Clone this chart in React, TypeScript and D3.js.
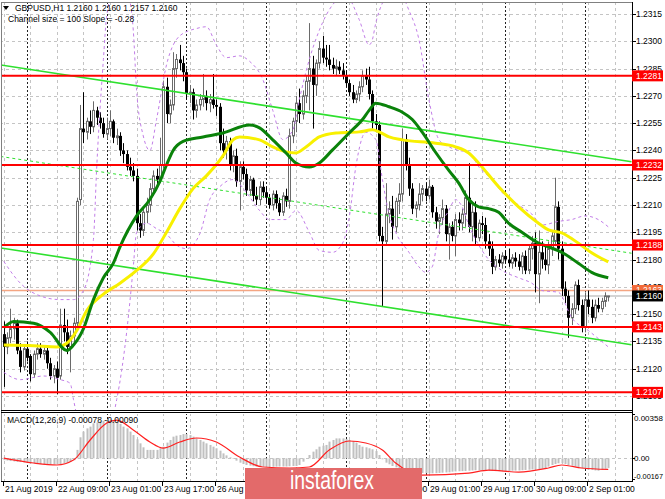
import * as React from 'react';
import * as d3 from 'd3';

// all prices below are pips above 1.2000 (e.g. 143 = 1.2143)
// candles: open, high, low, close — one per H1 bar, 21 Aug 17:00 .. 2 Sep 07:00
const candles: [number, number, number, number][] = [
  [139, 146, 110, 132], [132, 140, 128, 137], [137, 153, 134, 142], [142, 148, 136, 145], [145, 147, 128, 130], [130, 134, 118, 121],
  [121, 133, 119, 131], [131, 135, 124, 126], [127, 128, 113, 117], [117, 130, 115, 128], [128, 134, 125, 131], [131, 134, 126, 128],
  [128, 133, 125, 130], [130, 132, 120, 123], [123, 126, 114, 116], [116, 122, 112, 120], [120, 124, 106, 115], [116, 153, 114, 144],
  [144, 153, 135, 140], [140, 147, 128, 132], [132, 141, 118, 138], [138, 148, 133, 145], [145, 214, 143, 212], [213, 265, 210, 252],
  [252, 272, 244, 250], [250, 258, 246, 256], [256, 262, 249, 253], [253, 267, 250, 262], [262, 264, 254, 258], [258, 261, 252, 255],
  [255, 258, 247, 249], [249, 258, 246, 252], [252, 262, 248, 256], [256, 257, 244, 247], [247, 252, 243, 248], [248, 250, 237, 240],
  [240, 244, 233, 238], [238, 240, 229, 231], [231, 236, 226, 229], [229, 233, 223, 226], [226, 230, 196, 200], [200, 205, 192, 196],
  [196, 208, 193, 206], [206, 214, 200, 210], [210, 222, 206, 219], [219, 229, 215, 226], [226, 230, 221, 224], [224, 247, 222, 232],
  [232, 278, 230, 275], [275, 280, 255, 260], [260, 268, 255, 265], [265, 294, 262, 285], [285, 293, 280, 290], [290, 298, 284, 288],
  [288, 292, 278, 283], [283, 285, 268, 271], [271, 276, 266, 272], [272, 274, 257, 262], [262, 268, 258, 265], [265, 271, 262, 268],
  [268, 282, 264, 270], [270, 273, 262, 266], [266, 271, 261, 268], [268, 282, 263, 265], [265, 268, 259, 264], [264, 266, 240, 244],
  [244, 252, 236, 240], [240, 248, 235, 245], [245, 247, 229, 232], [232, 240, 228, 237], [237, 241, 220, 223], [223, 234, 207, 231],
  [231, 234, 224, 227], [227, 230, 215, 218], [218, 226, 215, 224], [224, 225, 212, 215], [215, 220, 210, 213], [213, 223, 210, 220],
  [220, 223, 214, 217], [217, 220, 211, 214], [214, 216, 208, 210], [210, 218, 207, 216], [216, 218, 208, 211], [211, 214, 204, 206],
  [206, 217, 204, 215], [215, 219, 209, 212], [212, 252, 208, 248], [248, 258, 244, 256], [256, 270, 250, 266], [266, 274, 255, 260],
  [260, 273, 257, 270], [270, 281, 266, 278], [278, 310, 262, 285], [285, 292, 252, 276], [276, 290, 270, 288], [288, 300, 285, 296],
  [296, 303, 288, 291], [291, 298, 286, 290], [290, 298, 284, 287], [287, 291, 282, 285], [285, 290, 281, 286], [286, 289, 282, 284],
  [284, 288, 279, 281], [281, 284, 275, 277], [277, 279, 270, 272], [272, 276, 266, 268], [268, 273, 266, 271], [271, 278, 267, 275],
  [275, 284, 272, 281], [281, 285, 276, 279], [279, 286, 268, 271], [271, 273, 252, 256], [256, 260, 250, 254], [254, 256, 190, 193],
  [193, 198, 154, 190], [190, 222, 188, 205], [205, 212, 200, 208], [208, 215, 191, 198], [198, 214, 195, 212], [212, 222, 205, 216],
  [216, 252, 212, 246], [246, 249, 229, 232], [232, 236, 215, 219], [219, 222, 205, 208], [208, 212, 203, 210], [210, 222, 207, 216],
  [216, 221, 212, 219], [219, 222, 212, 215], [215, 224, 213, 220], [220, 221, 203, 206], [206, 209, 197, 201], [201, 205, 194, 203],
  [203, 213, 199, 208], [208, 210, 190, 194], [194, 200, 180, 198], [198, 201, 190, 193], [193, 205, 182, 202], [202, 206, 196, 200],
  [200, 208, 196, 205], [205, 218, 198, 214], [214, 233, 195, 198], [198, 210, 190, 206], [206, 212, 188, 192], [192, 202, 190, 200],
  [200, 204, 194, 199], [199, 203, 186, 190], [190, 194, 182, 186], [186, 190, 172, 176], [176, 182, 174, 180], [180, 183, 176, 178],
  [178, 184, 175, 182], [182, 185, 178, 180], [180, 186, 176, 178], [178, 183, 175, 181], [181, 184, 176, 179], [179, 183, 174, 176],
  [176, 184, 172, 182], [182, 185, 172, 174], [174, 188, 172, 186], [186, 193, 180, 189], [189, 195, 162, 172], [172, 196, 156, 184],
  [184, 190, 175, 180], [180, 188, 174, 177], [177, 190, 172, 186], [186, 196, 182, 193], [190, 225, 188, 209], [209, 212, 180, 186],
  [186, 190, 160, 164], [164, 168, 156, 160], [160, 163, 137, 148], [148, 156, 144, 153], [153, 168, 150, 166], [166, 169, 152, 155],
  [155, 158, 140, 143], [143, 162, 140, 158], [158, 163, 150, 154], [154, 158, 145, 148], [148, 158, 146, 155], [155, 159, 151, 153],
  [153, 159, 151, 157], [157, 162, 154, 160], [160, 160, 157, 160],
];

// moving averages: [bar, pips]
const fastMa: [number, number][] = [
  [0, 142.5], [3, 146], [9, 145], [14, 140], [19, 130], [21, 133], [24, 142], [27, 158], [30, 170], [33, 178], [35, 187],
  [40, 204], [44, 213], [47, 223], [49, 232], [51, 240], [54, 245], [60, 247.4], [66, 249.6], [74, 254], [77, 252.4],
  [81, 245.8], [85, 238.6], [88, 233.1], [92, 230.9], [95, 233.1], [99, 240.3], [104, 249.6], [108, 257], [110, 262],
  [112, 266], [116, 264], [120, 261], [123, 257], [126, 250], [130, 239], [134, 229], [137, 222], [140, 213], [143, 209],
  [146, 208], [149, 206], [152, 200], [156, 195], [161, 189], [164, 187], [168, 184], [173, 178], [177, 173], [182, 170],
];
const slowMa: [number, number][] = [
  [0, 133], [9, 132.6], [16, 132], [19, 134], [22, 141], [25, 152], [30, 161], [35, 167], [40, 174], [45, 183], [49, 195],
  [53, 208], [57, 219], [61, 226], [66, 237], [69, 245.8], [71, 247.4], [77, 245.8], [81, 241.9], [85, 239.2], [88, 238.6],
  [91, 241.9], [95, 247.4], [100, 249.6], [107, 250.2], [111, 251.3], [113, 250.2], [116, 247.4], [120, 245.8], [130, 244],
  [136, 242], [140, 238.6], [143, 233], [149, 220], [155, 209], [161, 200], [164, 196.3], [168, 194.7], [173, 189],
  [177, 183.7], [182, 178.7],
];
// bollinger envelope (purple dashes)
const bandUpper: [number, number][] = [
  [0, 179], [5, 167], [11, 160], [17, 158], [21, 158], [24, 163], [27, 191], [28, 231], [30, 290], [31, 314], [33, 327],
  [37, 327], [38, 322], [39, 306], [40, 273], [42, 248], [44, 240], [46, 257], [49, 287], [53, 303], [58, 307], [61, 308],
  [64, 298], [67, 291], [71, 292], [74, 289], [78, 279], [81, 262], [84, 246], [87, 251], [89, 268], [92, 290], [95, 306],
  [99, 320], [103, 325], [107, 312], [110, 298], [111, 301], [112, 310], [114, 321], [116, 327], [119, 327], [122, 317],
  [125, 301], [128, 268], [131, 246], [134, 242], [137, 240], [140, 239], [143, 231], [147, 224], [150, 217], [155, 210],
  [159, 205], [162, 199], [167, 201], [171, 202], [175, 204], [179, 202], [182, 198],
];
const bandLower: [number, number][] = [
  [0, 118], [5, 114], [12, 116], [17, 114], [20, 112], [21, 103], [23, 89], [32, 89], [34, 103], [37, 140], [39, 176],
  [40, 195], [43, 200], [46, 197], [49, 194], [52, 188], [55, 186], [59, 194], [62, 213], [65, 220], [69, 224], [73, 217],
  [77, 207], [80, 202], [85, 202], [88, 207], [92, 195], [95, 185], [99, 184], [102, 189], [104, 203], [106, 231], [109, 250],
  [112, 246], [114, 224], [116, 205], [118, 195], [122, 184], [125, 176], [127, 173], [129, 176], [131, 195], [134, 207],
  [136, 213], [138, 209], [140, 199], [143, 188], [146, 180], [150, 174], [155, 170], [159, 167], [162, 163], [167, 162],
  [171, 148], [176, 141], [182, 132],
];

// linear regression channel, ends at bar -1 and bar 189
const channelBars = [-1, 189];
const channelTop = [1.2287, 1.22338];
const channelBottom = [1.21864, 1.21332];

const levelPrices = [1.2281, 1.2232, 1.2188, 1.2143, 1.2107];
const askPrice = 1.2163;
const bidPrice = 1.216;

const priceTicks = ['1.2315', '1.2300', '1.2285', '1.2270', '1.2255', '1.2240', '1.2225', '1.2210', '1.2195',
  '1.2180', '1.2165', '1.2150', '1.2135', '1.2120', '1.2105'];

const timeBars = [0, 16, 32, 48, 64, 80, 96, 112, 128, 144, 160, 176];
const timeLabels = ['21 Aug 2019', '22 Aug 09:00', '23 Aug 01:00', '23 Aug 17:00', '26 Aug 09:00', '27 Aug 01:00',
  '27 Aug 17:00', '28 Aug 09:00', '29 Aug 01:00', '29 Aug 17:00', '30 Aug 09:00', '2 Sep 01:00'];
const daySeparators = [7, 31, 55, 79, 103, 127, 151, 175];

// MACD(12,26,9) histogram per bar, in 1e-5
const macdHist = [
  -15, -18, -22, -25, -28, -30, -33, -36, -40, -42,
  -45, -47, -48, -50, -50, -49, -48, -46, -42, -38,
  -30, -15, 68, 170, 216, 242, 256, 283, 290, 297,
  303, 310, 310, 310, 297, 278, 256, 242, 216, 188,
  154, 121, 89, 68, 68, 68, 68, 81, 94, 127,
  148, 175, 183, 188, 196, 196, 188, 175, 161, 148,
  135, 121, 108, 94, 81, 62, 40, 24, 8, -5,
  -19, -35, -46, -54, -59, -64, -67, -65, -68, -70,
  -70, -68, -67, -66, -66, -66, -64, -62, -62, -54,
  -27, 0, 27, 54, 73, 94, 102, 108, 135, 148,
  161, 161, 161, 156, 148, 140, 127, 108, 94, 89,
  81, 73, 59, 27, -8, -35, -48, -62, -73, -81,
  -89, -94, -100, -105, -110, -116, -118, -120, -121, -121,
  -120, -118, -116, -114, -113, -108, -106, -104, -103, -102,
  -100, -98, -96, -95, -97, -99, -100, -102, -103, -104,
  -104, -103, -102, -100, -99, -98, -96, -94, -92, -90,
  -88, -86, -84, -78, -67, -54, -46, -40, -40, -46,
  -54, -59, -67, -73, -81, -86, -92, -94, -98, -100,
  -94, -84, -78,
];
const macdSignal: [number, number][] = [
  [0, 2], [9, -38], [16, -54], [21, -14], [26, 148], [31, 285], [34, 309], [39, 229], [44, 132], [48, 83], [53, 132],
  [58, 164], [64, 132], [71, 10], [78, -70], [86, -78], [92, -70], [98, 67], [104, 140], [109, 124], [114, 67],
  [118, -38], [126, -135], [140, -119], [146, -95], [155, -111], [164, -78], [168, -54], [174, -78], [182, -90],
];
const macdTicks = [358, 0, -167];
const macdTickText = ['0.00358', '0.00', '-0.00167'];

const pip = (v: number) => 1.2 + v / 10000;

const FONT = '"Liberation Sans", Arial, sans-serif';
const AXIS_X = 632;
const MAIN_TOP = 2;
const MAIN_BOTTOM = 410;
const MACD_TOP = 413;
const MACD_BOTTOM = 481;

export default function App() {
  const x = d3.scaleLinear().domain([7, 175]).range([27, 585]);
  const y = d3.scaleLinear().domain([1.2105, 1.2315]).range([396, 14]);
  const ym = d3.scaleLinear().domain([-167, 358]).range([479, 414]);
  const px = (i: number) => Math.round(x(i));

  const pipLine = d3.line<[number, number]>()
    .x((d) => x(d[0]))
    .y((d) => y(pip(d[1])))
    .curve(d3.curveMonotoneX);

  const signalLine = d3.line<[number, number]>()
    .x((d) => x(d[0]))
    .y((d) => ym(d[1]))
    .curve(d3.curveMonotoneX);

  const gridBars = d3.range(0, 192, 8);
  const channelMid = channelTop.map((t, k) => (t + channelBottom[k]) / 2);
  // keep the top and bottom MACD labels inside the panel, like the terminal does
  const macdLabelY = (v: number) => Math.min(Math.max(ym(v) + 3, MACD_TOP + 8), MACD_BOTTOM - 2);

  return (
    <svg width={665} height={499} style={{ position: 'absolute', left: 0, top: 0, background: '#fff' }}
      fontFamily={FONT}>
      <defs>
        <clipPath id="main-clip"><rect x={1} y={MAIN_TOP + 1} width={AXIS_X - 1} height={MAIN_BOTTOM - MAIN_TOP - 1} /></clipPath>
        <clipPath id="macd-clip"><rect x={1} y={MACD_TOP + 1} width={AXIS_X - 1} height={MACD_BOTTOM - MACD_TOP - 1} /></clipPath>
      </defs>
      <rect x={0} y={0} width={665} height={499} fill="#fff" />

      {/* main window */}
      <g clipPath="url(#main-clip)">
        {priceTicks.map((t) => (
          <line key={t} x1={0} x2={AXIS_X} y1={Math.round(y(+t)) + 0.5} y2={Math.round(y(+t)) + 0.5}
            stroke="#c4c4c4" strokeDasharray="3,3" />
        ))}
        {gridBars.map((b) => (
          <line key={b} x1={px(b) + 0.5} x2={px(b) + 0.5} y1={MAIN_TOP} y2={MAIN_BOTTOM}
            stroke="#c4c4c4" strokeDasharray="3,3" />
        ))}
        {daySeparators.map((b) => (
          <line key={b} x1={px(b) + 0.5} x2={px(b) + 0.5} y1={MAIN_TOP} y2={MAIN_BOTTOM}
            stroke="#222" strokeDasharray="2,2" />
        ))}

        {/* ask / bid lines */}
        <line x1={0} x2={AXIS_X} y1={y(bidPrice)} y2={y(bidPrice)} stroke="#d4d4d4" strokeWidth={2} />
        <line x1={0} x2={AXIS_X} y1={y(askPrice)} y2={y(askPrice)} stroke="#f4a582" strokeWidth={1.5} />

        {/* candles */}
        {candles.map(([o, h, l, c], i) => {
          const cx = px(i);
          const up = c >= o;
          const top = y(pip(Math.max(o, c)));
          const bot = y(pip(Math.min(o, c)));
          const col = up ? '#6a6a6a' : '#000';
          return (
            <g key={i}>
              <line x1={cx + 0.5} x2={cx + 0.5} y1={y(pip(h))} y2={y(pip(l))} stroke={col} />
              {up
                ? <rect x={cx - 0.5} y={top} width={2} height={Math.max(bot - top, 1)} fill="#fff" stroke={col} />
                : <rect x={cx - 1} y={top} width={3} height={Math.max(bot - top, 1)} fill="#000" />}
            </g>
          );
        })}

        {/* envelope */}
        <path d={pipLine(bandUpper) ?? ''} fill="none" stroke="#c27ee8" strokeDasharray="3,3" />
        <path d={pipLine(bandLower) ?? ''} fill="none" stroke="#c27ee8" strokeDasharray="3,3" />

        {/* regression channel */}
        <line x1={x(channelBars[0])} x2={x(channelBars[1])} y1={y(channelTop[0])} y2={y(channelTop[1])}
          stroke="#2ee02e" strokeWidth={1.6} />
        <line x1={x(channelBars[0])} x2={x(channelBars[1])} y1={y(channelBottom[0])} y2={y(channelBottom[1])}
          stroke="#2ee02e" strokeWidth={1.6} />
        <line x1={x(channelBars[0])} x2={x(channelBars[1])} y1={y(channelMid[0])} y2={y(channelMid[1])}
          stroke="#2ee02e" strokeDasharray="3,3" />

        {/* moving averages */}
        <path d={pipLine(slowMa) ?? ''} fill="none" stroke="#f8f000" strokeWidth={3} />
        <path d={pipLine(fastMa) ?? ''} fill="none" stroke="#0a820a" strokeWidth={3} />

        {/* horizontal levels */}
        {levelPrices.map((p) => (
          <line key={p} x1={0} x2={AXIS_X} y1={y(p)} y2={y(p)} stroke="#ff0000" strokeWidth={2} />
        ))}
      </g>

      {/* header texts */}
      <path d="M3,6 L9,6 L6,10 Z" fill="#000" />
      <text x={15} y={11} fontSize={8.5} fill="#000">GBPUSD,H1  1.2160 1.2160 1.2157 1.2160</text>
      <text x={8} y={22} fontSize={8.5} fill="#000">Channel size = 100 Slope = -0.28</text>

      {/* MACD window */}
      <g clipPath="url(#macd-clip)">
        <line x1={0} x2={AXIS_X} y1={Math.round(ym(0)) + 0.5} y2={Math.round(ym(0)) + 0.5}
          stroke="#c4c4c4" strokeDasharray="3,3" />
        {gridBars.map((b) => (
          <line key={b} x1={px(b) + 0.5} x2={px(b) + 0.5} y1={MACD_TOP} y2={MACD_BOTTOM}
            stroke="#c4c4c4" strokeDasharray="3,3" />
        ))}
        {daySeparators.map((b) => (
          <line key={b} x1={px(b) + 0.5} x2={px(b) + 0.5} y1={MACD_TOP} y2={MACD_BOTTOM}
            stroke="#222" strokeDasharray="2,2" />
        ))}
        {macdHist.map((v, i) => {
          const y0 = ym(0);
          const y1 = ym(v);
          return <rect key={i} x={px(i) - 0.5} y={Math.min(y0, y1)} width={2} height={Math.abs(y1 - y0)} fill="#c0c0c0" />;
        })}
        <path d={signalLine(macdSignal) ?? ''} fill="none" stroke="#ff2020" strokeWidth={1.2} />
      </g>
      <text x={7} y={423} fontSize={8.5} fill="#000">MACD(12,26,9) -0.00078 -0.00090</text>

      {/* frames */}
      <line x1={1.5} x2={1.5} y1={MAIN_TOP} y2={MACD_BOTTOM} stroke="#808080" />
      <line x1={1} x2={AXIS_X} y1={MAIN_TOP + 0.5} y2={MAIN_TOP + 0.5} stroke="#808080" />
      <line x1={1} x2={AXIS_X} y1={MAIN_BOTTOM + 0.5} y2={MAIN_BOTTOM + 0.5} stroke="#000" />
      <line x1={1} x2={AXIS_X} y1={MACD_TOP - 0.5} y2={MACD_TOP - 0.5} stroke="#000" />
      <line x1={1} x2={AXIS_X} y1={MACD_BOTTOM + 0.5} y2={MACD_BOTTOM + 0.5} stroke="#000" />
      <line x1={AXIS_X + 0.5} x2={AXIS_X + 0.5} y1={MAIN_TOP} y2={MACD_BOTTOM + 1} stroke="#000" />

      {/* price axis */}
      {priceTicks.map((t) => (
        <g key={t}>
          <line x1={AXIS_X} x2={AXIS_X + 4} y1={Math.round(y(+t)) + 0.5} y2={Math.round(y(+t)) + 0.5} stroke="#000" />
          <text x={AXIS_X + 4} y={y(+t) + 3} fontSize={8.5} fill="#000">{t}</text>
        </g>
      ))}
      {levelPrices.map((p) => (
        <g key={p}>
          <rect x={AXIS_X} y={y(p) - 5.5} width={31} height={11} fill="#ff0000" />
          <text x={AXIS_X + 4} y={y(p) + 3} fontSize={8.5} fill="#fff">{p.toFixed(4)}</text>
        </g>
      ))}
      <rect x={AXIS_X} y={y(askPrice) - 5.5} width={31} height={11} fill="#f26b3a" />
      <text x={AXIS_X + 4} y={y(askPrice) + 3} fontSize={8.5} fill="#fff">{askPrice.toFixed(4)}</text>
      <rect x={AXIS_X} y={y(bidPrice) - 5.5} width={31} height={11} fill="#000" />
      <text x={AXIS_X + 4} y={y(bidPrice) + 3} fontSize={8.5} fill="#fff">{bidPrice.toFixed(4)}</text>

      {/* MACD axis */}
      {macdTicks.map((v, k) => (
        <g key={v}>
          <line x1={AXIS_X} x2={AXIS_X + 3} y1={Math.round(ym(v)) + 0.5} y2={Math.round(ym(v)) + 0.5} stroke="#000" />
          <text x={AXIS_X + 2} y={macdLabelY(v)} fontSize={8} fill="#000"
            textLength={v < 0 ? 29 : undefined} lengthAdjust="spacingAndGlyphs">{macdTickText[k]}</text>
        </g>
      ))}

      {/* time axis */}
      {timeBars.map((b, k) => (
        <g key={b}>
          <line x1={px(b) - 0.5} x2={px(b) - 0.5} y1={MACD_BOTTOM + 1} y2={MACD_BOTTOM + 5} stroke="#000" />
          <text x={px(b) + 1} y={492} fontSize={8.5} fill="#000">{timeLabels[k]}</text>
        </g>
      ))}

      {/* watermark */}
      <rect x={245} y={468} width={177} height={31} fill="#e36a6a" />
      <text x={290} y={489} fontSize={25} fill="#fff" textLength={84} lengthAdjust="spacingAndGlyphs">instaforex</text>
    </svg>
  );
}
